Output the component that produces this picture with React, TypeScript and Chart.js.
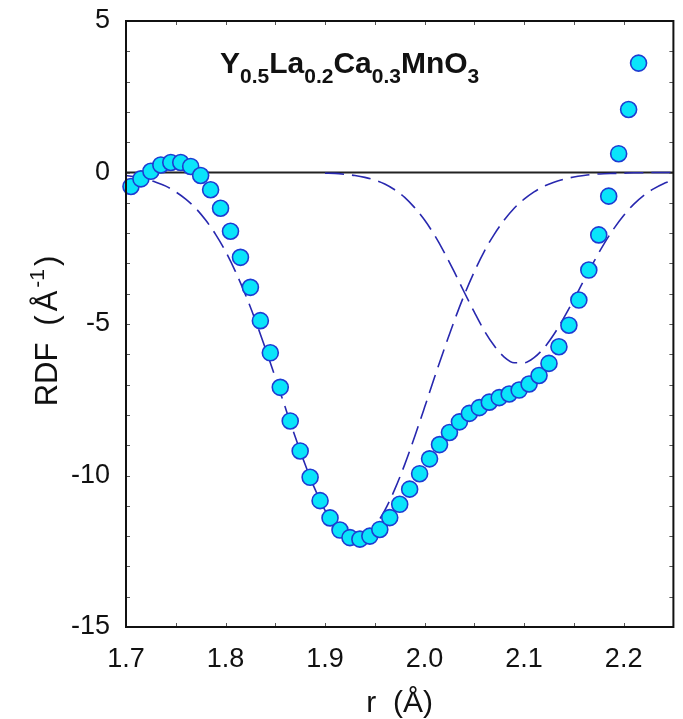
import React, { useEffect, useRef } from 'react';
import { Chart, registerables } from 'chart.js';

Chart.register(...registerables);

// Measured RDF points
const rPoints = [
  1.705, 1.715, 1.725, 1.735, 1.745, 1.755, 1.765, 1.775, 1.785, 1.795,
  1.805, 1.815, 1.825, 1.835, 1.845, 1.855, 1.865, 1.875, 1.885, 1.895,
  1.905, 1.915, 1.925, 1.935, 1.945, 1.955, 1.965, 1.975, 1.985, 1.995,
  2.005, 2.015, 2.025, 2.035, 2.045, 2.055, 2.065, 2.075, 2.085, 2.095,
  2.105, 2.115, 2.125, 2.135, 2.145, 2.155, 2.165, 2.175, 2.185, 2.195,
  2.205, 2.215,
];
const rdfPoints = [
  -0.46, -0.21, 0.04, 0.25, 0.33, 0.33, 0.2, -0.1, -0.57, -1.18,
  -1.94, -2.8, -3.79, -4.89, -5.95, -7.09, -8.2, -9.19, -10.06, -10.83,
  -11.4, -11.8, -12.05, -12.1, -12.0, -11.78, -11.39, -10.95, -10.45, -9.94,
  -9.45, -8.98, -8.58, -8.23, -7.95, -7.76, -7.58, -7.43, -7.31, -7.18,
  -6.98, -6.7, -6.3, -5.75, -5.04, -4.21, -3.22, -2.06, -0.78, 0.62,
  2.08, 3.61,
];

// First fitted component (dashed)
const rFit1 = [
  1.7, 1.71, 1.72, 1.73, 1.74, 1.75, 1.76, 1.77, 1.78, 1.79,
  1.8, 1.81, 1.82, 1.83, 1.84, 1.85, 1.86, 1.87, 1.88, 1.89,
  1.9, 1.91, 1.92, 1.93, 1.94, 1.95, 1.96, 1.97, 1.98, 1.99,
  2.0, 2.01, 2.02, 2.03, 2.04, 2.05, 2.06, 2.07, 2.08, 2.09,
  2.1, 2.11, 2.12, 2.13, 2.14, 2.15, 2.16, 2.17, 2.18, 2.19,
  2.2, 2.21, 2.22, 2.23, 2.24, 2.25,
];
const fit1 = [
  -0.1, -0.15, -0.22, -0.32, -0.45, -0.64, -0.88, -1.18, -1.57, -2.04,
  -2.6, -3.27, -4.03, -4.88, -5.8, -6.76, -7.75, -8.72, -9.64, -10.46,
  -11.15, -11.67, -11.99, -12.1, -11.99, -11.67, -11.15, -10.46, -9.64, -8.72,
  -7.75, -6.76, -5.8, -4.88, -4.03, -3.27, -2.6, -2.04, -1.57, -1.18,
  -0.88, -0.64, -0.45, -0.32, -0.22, -0.15, -0.1, -0.06, -0.04, -0.03,
  -0.02, -0.01, -0.01, 0, 0, 0,
];

// Second fitted component (dashed)
const rFit2 = [
  1.9, 1.91, 1.92, 1.93, 1.94, 1.95, 1.96, 1.97, 1.98, 1.99,
  2.0, 2.01, 2.02, 2.03, 2.04, 2.05, 2.06, 2.07, 2.08, 2.09,
  2.1, 2.11, 2.12, 2.13, 2.14, 2.15, 2.16, 2.17, 2.18, 2.19,
  2.2, 2.21, 2.22, 2.23, 2.24, 2.25,
];
const fit2 = [
  -0.02, -0.03, -0.06, -0.1, -0.16, -0.25, -0.38, -0.57, -0.82, -1.16,
  -1.57, -2.07, -2.65, -3.29, -3.96, -4.61, -5.22, -5.72, -6.09, -6.28,
  -6.28, -6.11, -5.79, -5.34, -4.79, -4.19, -3.56, -2.95, -2.37, -1.86,
  -1.42, -1.05, -0.76, -0.54, -0.37, -0.25,
];

// Zero reference line
const zeroLineR = [1.7, 2.25];
const zeroLineV = [0, 0];

// Axes
const xMin = 1.7;
const xMax = 2.25;
const yMin = -15;
const yMax = 5;
const xTickValues = [1.7, 1.8, 1.9, 2.0, 2.1, 2.2];
const yTickValues = [-15, -10, -5, 0, 5];
const xMinorTicks = [1.75, 1.8, 1.85, 1.9, 1.95, 2.0, 2.05, 2.1, 2.15, 2.2];
const yMinorTicks = [-14, -13, -12, -11, -10, -9, -8, -7, -6, -5, -4, -3, -2, -1, 0, 1, 2, 3, 4];

const xTitle = 'r  (Å)';
const yTitleMain = 'RDF';
const yTitleOpen = '(';
const yTitleUnit = 'Å';
const yTitleSup = '-1';
const yTitleEnd = ')';
const formulaParts: [string, boolean][] = [
  ['Y', false], ['0.5', true], ['La', false], ['0.2', true],
  ['Ca', false], ['0.3', true], ['MnO', false], ['3', true],
];

const FONT = '"Liberation Sans", Arial, Helvetica, sans-serif';

const toXY = (xs: number[], ys: number[]) => xs.map((x, i) => ({ x, y: ys[i] }));

const decorPlugin = {
  id: 'decor',
  afterDraw(chart: any) {
    const { ctx, chartArea: a, scales } = chart;
    const xs = scales.x;
    const ys = scales.y;
    ctx.save();
    // inward minor ticks on all four sides
    ctx.strokeStyle = '#555';
    ctx.lineWidth = 1;
    ctx.beginPath();
    xMinorTicks.forEach((v) => {
      const px = Math.round(xs.getPixelForValue(v)) + 0.5;
      ctx.moveTo(px, a.bottom);
      ctx.lineTo(px, a.bottom - 4);
      ctx.moveTo(px, a.top);
      ctx.lineTo(px, a.top + 4);
    });
    yMinorTicks.forEach((v) => {
      const py = Math.round(ys.getPixelForValue(v)) + 0.5;
      ctx.moveTo(a.left, py);
      ctx.lineTo(a.left + 4, py);
      ctx.moveTo(a.right, py);
      ctx.lineTo(a.right - 4, py);
    });
    ctx.stroke();
    // frame
    ctx.strokeStyle = '#111';
    ctx.lineWidth = 2;
    ctx.strokeRect(a.left, a.top, a.right - a.left, a.bottom - a.top);

    // y-axis title with superscript
    ctx.fillStyle = '#111';
    ctx.textBaseline = 'alphabetic';
    ctx.textAlign = 'left';
    const mainFont = `31px ${FONT}`;
    const supFont = `21px ${FONT}`;
    const pieces: [string, string, number, number][] = [
      [yTitleMain, mainFont, 0, 17],
      [yTitleOpen, mainFont, 0, 4],
      [yTitleUnit, mainFont, 0, 3],
      [yTitleSup, supFont, -13, 3],
      [yTitleEnd, mainFont, 0, 0],
    ];
    let total = 0;
    const widths = pieces.map(([t, f, , gap]) => {
      ctx.font = f;
      const w = ctx.measureText(t).width;
      total += w + gap;
      return w;
    });
    ctx.save();
    ctx.translate(57, 331);
    ctx.rotate(-Math.PI / 2);
    let cx = -total / 2;
    pieces.forEach(([t, f, dy, gap], i) => {
      ctx.font = f;
      ctx.fillText(t, cx, dy);
      cx += widths[i] + gap;
    });
    ctx.restore();

    // compound formula annotation
    let fx = a.left + 94;
    const baseY = a.top + 52;
    formulaParts.forEach(([t, sub]) => {
      ctx.font = sub ? `bold 21px ${FONT}` : `bold 30px ${FONT}`;
      ctx.fillText(t, fx, sub ? baseY + 10 : baseY);
      fx += ctx.measureText(t).width;
    });
    ctx.restore();
  },
};

export default function App() {
  const canvasRef = useRef<HTMLCanvasElement | null>(null);

  useEffect(() => {
    document.body.style.margin = '0';
    const canvas = canvasRef.current;
    if (!canvas) return;
    const chart = new Chart(canvas, {
      type: 'scatter',
      data: {
        datasets: [
          {
            label: 'RDF',
            data: toXY(rPoints, rdfPoints),
            showLine: false,
            pointRadius: 8,
            pointBorderWidth: 1.6,
            pointBackgroundColor: 'rgb(10, 228, 250)',
            pointBorderColor: 'rgb(30, 60, 210)',
            order: 0,
            clip: false,
          } as any,
          {
            label: 'fit1',
            data: toXY(rFit1, fit1),
            showLine: true,
            pointRadius: 0,
            borderColor: 'rgb(40, 40, 175)',
            borderWidth: 1.6,
            borderDash: [19, 8],
            cubicInterpolationMode: 'monotone',
            fill: false,
            order: 1,
          },
          {
            label: 'fit2',
            data: toXY(rFit2, fit2),
            showLine: true,
            pointRadius: 0,
            borderColor: 'rgb(40, 40, 175)',
            borderWidth: 1.6,
            borderDash: [19, 8],
            cubicInterpolationMode: 'monotone',
            fill: false,
            order: 1,
          },
          {
            label: 'zero',
            data: toXY(zeroLineR, zeroLineV),
            showLine: true,
            pointRadius: 0,
            borderColor: '#222',
            borderWidth: 2,
            fill: false,
            order: 2,
          },
        ],
      },
      options: {
        responsive: false,
        animation: false,
        devicePixelRatio: 1,
        layout: { padding: { top: 21, right: 6, left: 0, bottom: 0 } },
        plugins: {
          legend: { display: false },
          tooltip: { enabled: false },
        },
        scales: {
          x: {
            type: 'linear',
            min: xMin,
            max: xMax,
            grid: { display: false, drawTicks: false, tickLength: 0 },
            border: { display: false },
            afterBuildTicks: (scale: any) => {
              scale.ticks = xTickValues.map((value) => ({ value }));
            },
            afterFit: (scale: any) => {
              scale.height = 92;
              scale.paddingLeft = 0;
              scale.paddingRight = 0;
            },
            ticks: {
              color: '#111',
              padding: 16,
              font: { family: FONT, size: 27 },
              callback: (v: any) => Number(v).toFixed(1),
            },
            title: {
              display: true,
              text: xTitle,
              color: '#111',
              font: { family: FONT, size: 30, lineHeight: 1 },
              padding: { top: 0, bottom: 0 },
            },
          },
          y: {
            type: 'linear',
            min: yMin,
            max: yMax,
            grid: { display: false, drawTicks: false, tickLength: 0 },
            border: { display: false },
            afterBuildTicks: (scale: any) => {
              scale.ticks = yTickValues.map((value) => ({ value }));
            },
            afterFit: (scale: any) => {
              scale.width = 126;
              scale.paddingTop = 0;
              scale.paddingBottom = 0;
            },
            ticks: {
              color: '#111',
              padding: 16,
              font: { family: FONT, size: 27 },
              callback: (v: any) => String(v),
            },
          },
        },
      },
      plugins: [decorPlugin],
    });
    return () => chart.destroy();
  }, []);

  return (
    <div style={{ width: 683, height: 719, background: '#fff' }}>
      <canvas ref={canvasRef} width={683} height={719} />
    </div>
  );
}
